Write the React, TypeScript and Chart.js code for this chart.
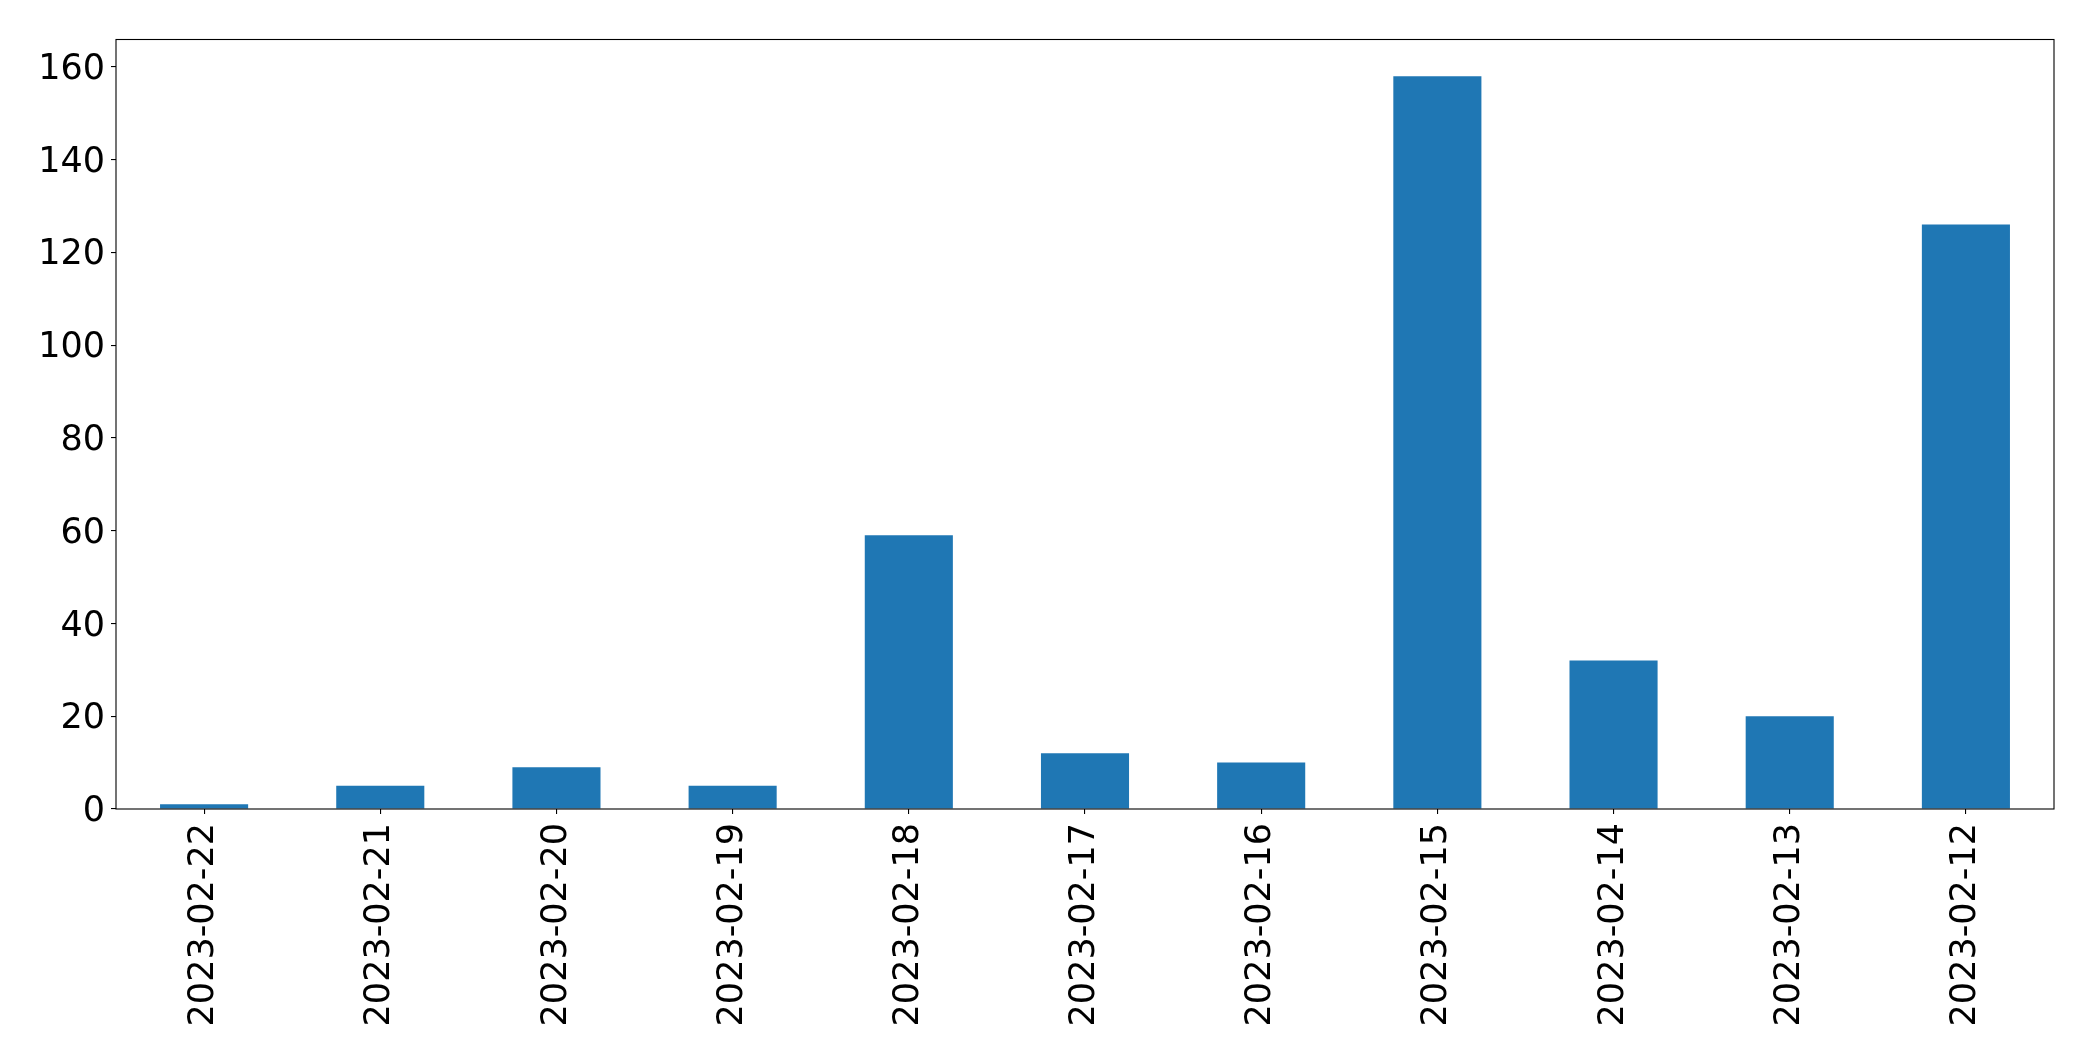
import React, { useEffect, useRef } from "react";
import { Chart, registerables } from "chart.js";

Chart.register(...registerables);

const categories = [
  "2023-02-22", "2023-02-21", "2023-02-20", "2023-02-19", "2023-02-18", "2023-02-17",
  "2023-02-16", "2023-02-15", "2023-02-14", "2023-02-13", "2023-02-12",
];
const counts = [1, 5, 9, 5, 59, 12, 10, 158, 32, 20, 126];
const yTickValues = [0, 20, 40, 60, 80, 100, 120, 140, 160];

const W = 2093;
const H = 1061;

const frame = {
  id: "frame",
  afterDatasetsDraw(chart: any) {
    const { ctx, chartArea } = chart;
    ctx.save();
    ctx.strokeStyle = "#000";
    ctx.lineWidth = 1.1;
    ctx.strokeRect(chartArea.left, chartArea.top, chartArea.right - chartArea.left, chartArea.bottom - chartArea.top);
    ctx.restore();
  },
};

export default function App() {
  const ref = useRef<HTMLCanvasElement>(null);
  useEffect(() => {
    document.body.style.margin = "0";
    const font = { family: "'DejaVu Sans'", size: 35 };
    const chart = new Chart(ref.current!, {
      type: "bar",
      data: {
        labels: categories,
        datasets: [
          {
            data: counts,
            backgroundColor: "#1f77b4",
            barPercentage: 0.5,
            categoryPercentage: 1,
          },
        ],
      },
      options: {
        responsive: false,
        animation: false,
        devicePixelRatio: 1,
        layout: { padding: { top: 39.5, right: 39, left: 0, bottom: 0 } },
        plugins: { legend: { display: false }, tooltip: { enabled: false } },
        scales: {
          x: {
            grid: { display: true, offset: false, drawOnChartArea: false, drawTicks: true, tickLength: 5, color: "#000", lineWidth: 1.1 },
            border: { display: false },
            ticks: { color: "#000", font, minRotation: 90, maxRotation: 90, padding: 9, autoSkip: false },
            afterFit: (s: any) => { s.height = H - 809; },
          },
          y: {
            min: 0,
            max: 165.9,
            grid: { display: true, drawOnChartArea: false, drawTicks: true, tickLength: 5, color: "#000", lineWidth: 1.1 },
            border: { display: false },
            ticks: { color: "#000", font, padding: 6, labelOffset: 3 },
            afterBuildTicks: (s: any) => { s.ticks = yTickValues.map((v) => ({ value: v })); },
            afterFit: (s: any) => { s.width = 116; },
          },
        },
      },
      plugins: [frame],
    });
    return () => chart.destroy();
  }, []);
  return (
    <div style={{ position: "absolute", left: 0, top: 0, width: W, height: H, background: "#fff" }}>
      <canvas ref={ref} width={W} height={H} style={{ width: W, height: H }} />
    </div>
  );
}
